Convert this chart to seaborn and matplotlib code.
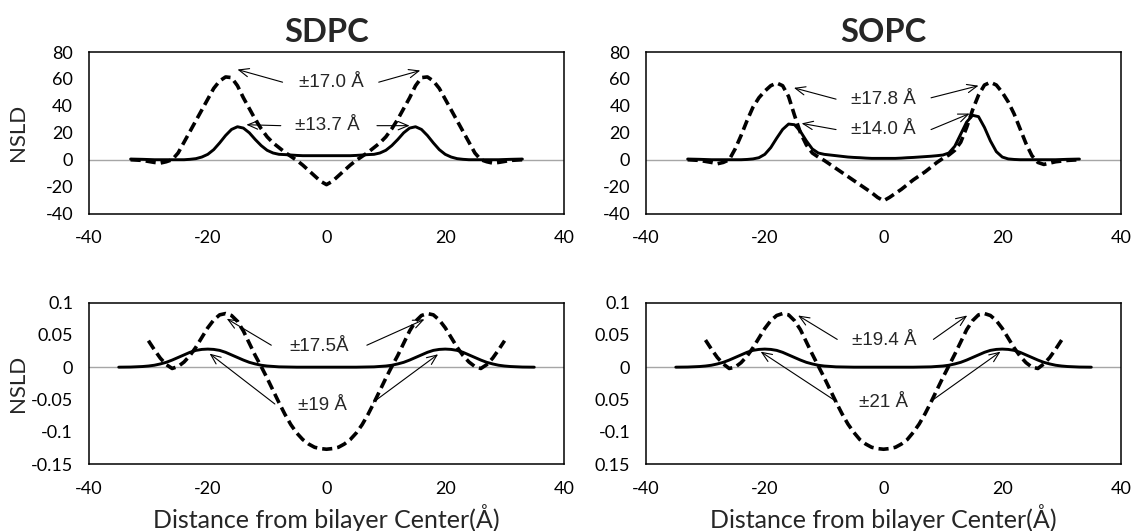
# nsld_profiles.py

import matplotlib.pyplot as plt
import seaborn as sns

# ---------------- data ----------------
# distance grid for the top (raw NSLD) panels
top_x = [-33, -31, -29, -28, -27, -26, -25, -24, -23, -22, -21, -20, -19, -18, -17,
         -16, -15, -14, -13, -12, -11, -10, -9, -8, -7, -6, -5, -4, -3, -2, -1, 0,
         1, 2, 3, 4, 5, 6, 7, 8, 9, 10, 11, 12, 13, 14, 15, 16, 17, 18, 19, 20,
         21, 22, 23, 24, 25, 26, 27, 28, 29, 31, 33]

sdpc_top_dashed = [0, -0.5, -2, -2.5, -1.5, 0, 5, 13, 21, 29, 37, 45, 53, 58.5, 61.5,
                   61, 55, 46, 38, 30, 23, 17, 12.5, 9, 5.5, 2.5, -0.5, -4, -8, -12, -16, -18.5,
                   -16, -12, -8, -4, -0.5, 2.5, 5.5, 9, 12.5, 17, 23, 30, 38, 46, 55, 61, 61.5, 58.5, 53, 45,
                   37, 29, 21, 13, 5, 0, -1.5, -2.5, -2, -0.5, 0]
sdpc_top_solid = [0.5, 0.3, 0, 0, 0, 0, 0, 0, 0.3, 0.8, 2, 4, 7.5, 12.5, 18,
                  22.5, 24.5, 23.5, 20, 15, 10.5, 7, 5, 4, 3.8, 3.5, 3.2, 3, 3, 3, 3, 3,
                  3, 3, 3, 3, 3.2, 3.5, 3.8, 4, 5, 7, 10.5, 15, 20, 23.5, 24.5, 22.5, 18, 12.5, 7.5, 4,
                  2, 0.8, 0.3, 0, 0, 0, 0, 0, 0, 0.3, 0.5]

sopc_top_dashed = [0, -0.5, -2, -3, -2, 0, 8, 18, 29, 39, 46, 51, 55, 57, 55,
                   47, 33, 20, 11, 5, 2, -0.5, -3.5, -6.5, -9.5, -12.5, -15.5, -18.5, -21.5, -24.5, -28, -30.5,
                   -28, -25, -22, -18.5, -15, -12, -9, -5.5, -2, 1, 3.5, 7, 13, 24, 37, 48, 55.5, 57.5, 55.5, 50,
                   43, 34, 23, 12, 3, -2, -3.5, -2.5, -1.5, -0.5, 0]
sopc_top_solid = [0.5, 0.3, 0, 0, 0, 0, 0, 0, 0.2, 0.6, 1.5, 4, 9, 16, 22.5,
                  26.5, 26, 21, 14, 8, 5, 4, 3.5, 3, 2.5, 2, 1.7, 1.5, 1.2, 1, 1, 1,
                  1, 1, 1.2, 1.5, 1.7, 2, 2.3, 2.6, 3, 3.5, 5, 10, 19, 28, 33, 32, 24, 14, 6, 2,
                  0.6, 0.2, 0, 0, 0, 0, 0, 0, 0, 0.3, 0.5]

# distance grids for the bottom (model) panels
bot_dashed_x = [-30, -29, -28, -27, -26, -25, -24, -23, -22, -21, -20, -19, -18, -17, -16,
                -15, -14, -13, -12, -11, -10, -9, -8, -7, -6, -5, -4, -3, -2, -1, 0,
                1, 2, 3, 4, 5, 6, 7, 8, 9, 10, 11, 12, 13, 14, 15,
                16, 17, 18, 19, 20, 21, 22, 23, 24, 25, 26, 27, 28, 29, 30]
bot_solid_x = [-35, -33, -31, -30, -29, -28, -27, -26, -25, -24, -23, -22, -21, -20, -19,
               -18, -17, -16, -15, -14, -13, -12, -11, -10, -8, -5, 0, 5, 8,
               10, 11, 12, 13, 14, 15, 16, 17, 18, 19, 20, 21, 22, 23, 24, 25,
               26, 27, 28, 29, 30, 31, 33, 35]

sdpc_bot_dashed = [0.041, 0.027, 0.014, 0.004, -0.002, 0.001, 0.008, 0.018, 0.031, 0.046, 0.061, 0.073, 0.081, 0.083, 0.080,
                   0.071, 0.056, 0.037, 0.018, 0.001, -0.017, -0.036, -0.055, -0.073, -0.089, -0.102, -0.112, -0.119, -0.124, -0.126, -0.127,
                   -0.126, -0.124, -0.119, -0.112, -0.102, -0.089, -0.073, -0.055, -0.036, -0.017, 0.001, 0.018, 0.037, 0.056, 0.071,
                   0.080, 0.083, 0.081, 0.073, 0.061, 0.046, 0.031, 0.018, 0.008, 0.001, -0.002, 0.004, 0.014, 0.027, 0.041]
sdpc_bot_solid = [0, 0.0002, 0.001, 0.0018, 0.003, 0.005, 0.0075, 0.011, 0.015, 0.019, 0.023, 0.026, 0.0275, 0.028, 0.0275,
                  0.026, 0.023, 0.019, 0.015, 0.011, 0.0075, 0.005, 0.003, 0.0018, 0.0005, 0, 0, 0, 0.0005,
                  0.0018, 0.003, 0.005, 0.0075, 0.011, 0.015, 0.019, 0.023, 0.026, 0.0275, 0.028, 0.0275, 0.026, 0.023, 0.019, 0.015,
                  0.011, 0.0075, 0.005, 0.003, 0.0018, 0.001, 0.0002, 0]

sopc_bot_dashed = [0.042, 0.028, 0.015, 0.005, -0.002, 0.000, 0.007, 0.017, 0.030, 0.045, 0.060, 0.072, 0.080, 0.083, 0.081,
                   0.072, 0.058, 0.039, 0.020, 0.002, -0.016, -0.035, -0.054, -0.072, -0.088, -0.101, -0.112, -0.119, -0.124, -0.126, -0.127,
                   -0.126, -0.124, -0.119, -0.112, -0.101, -0.088, -0.072, -0.054, -0.035, -0.016, 0.002, 0.020, 0.039, 0.058, 0.072,
                   0.081, 0.083, 0.080, 0.072, 0.060, 0.045, 0.030, 0.017, 0.007, 0.000, -0.002, 0.005, 0.015, 0.028, 0.042]
sopc_bot_solid = [0, 0.0002, 0.001, 0.0018, 0.003, 0.005, 0.0075, 0.011, 0.015, 0.019, 0.023, 0.026, 0.0275, 0.028, 0.0275,
                  0.026, 0.023, 0.019, 0.015, 0.011, 0.0075, 0.005, 0.003, 0.0018, 0.0005, 0, 0, 0, 0.0005,
                  0.0018, 0.003, 0.005, 0.0075, 0.011, 0.015, 0.019, 0.023, 0.026, 0.0275, 0.028, 0.0275, 0.026, 0.023, 0.019, 0.015,
                  0.011, 0.0075, 0.005, 0.003, 0.0018, 0.001, 0.0002, 0]

panel_titles = ['SDPC', 'SOPC']
x_ticks = [-40, -20, 0, 20, 40]
top_y_ticks = [-40, -20, 0, 20, 40, 60, 80]
bot_y_ticks = [-0.15, -0.1, -0.05, 0, 0.05, 0.1]
bot_left_labels = ['-0.15', '-0.1', '-0.05', '0', '0.05', '0.1']
bot_right_labels = ['0.15', '-0.1', '0.05', '0', '0.05', '0.1']   # as printed in the source
x_label = 'Distance from bilayer Center(Å)'

# annotation text: (label, text xy, [(arrow start), (arrow tip)], ...)
annotations = [
    [('±17.0 Å', (0.8, 57), [((-7.4, 57.6), (-15, 67)), ((8.8, 57.6), (15.8, 66.3))]),
     ('±13.7 Å', (0.2, 25.3), [((-7.7, 25.3), (-13.5, 26)), ((8.5, 25.3), (14, 25.3))])],
    [('±17.8 Å', (-0.1, 45), [((-8, 45), (-15.1, 53.4)), ((8, 46), (16, 55))]),
     ('±14.0 Å', (-0.1, 22.4), [((-8, 22.4), (-13.8, 27)), ((8, 22.4), (14.5, 34.3))])],
    [('±17.5Å', (-1.3, 0.0325), [((-9.3, 0.034), (-16.8, 0.075)), ((6.8, 0.034), (16.5, 0.074))]),
     ('±19 Å', (-0.7, -0.059), [((-8.7, -0.057), (-19.7, 0.021)), ((7.9, -0.054), (18.8, 0.020))])],
    [('±19.4 Å', (0.2, 0.042), [((-7.8, 0.043), (-14.4, 0.080)), ((8.4, 0.043), (14.1, 0.080))]),
     ('±21 Å', (0.0, -0.055), [((-7.8, -0.054), (-20.7, 0.024)), ((8.1, -0.052), (19.7, 0.024))])],
]

# ---------------- plotting ----------------
sns.set_theme(style="white")
plt.rcParams['font.family'] = ['Lato', 'DejaVu Sans']

fig, axes = plt.subplots(2, 2, figsize=(11.33, 5.31), dpi=100)
fig.subplots_adjust(left=0.0786, right=0.9894, top=0.902, bottom=0.126,
                    wspace=0.173, hspace=0.551)

curves = [
    (top_x, sdpc_top_dashed, top_x, sdpc_top_solid),
    (top_x, sopc_top_dashed, top_x, sopc_top_solid),
    (bot_dashed_x, sdpc_bot_dashed, bot_solid_x, sdpc_bot_solid),
    (bot_dashed_x, sopc_bot_dashed, bot_solid_x, sopc_bot_solid),
]

for i, ax in enumerate(axes.flat):
    xd, yd, xs, ys = curves[i]

    # zero line
    ax.axhline(0, color='#a6a6a6', lw=1.0, zorder=1)

    sns.lineplot(x=xd, y=yd, ax=ax, color='black', lw=2.6,
                 linestyle=(0, (2.8, 1.4)), estimator=None, sort=False, zorder=3)
    sns.lineplot(x=xs, y=ys, ax=ax, color='black', lw=2.1,
                 estimator=None, sort=False, zorder=3)

    ax.set_xlim(-40, 40)
    ax.set_xticks(x_ticks)
    ax.set_xticklabels([str(t) for t in x_ticks])

    if i < 2:
        ax.set_ylim(-40, 80)
        ax.set_yticks(top_y_ticks)
        ax.set_yticklabels([str(t) for t in top_y_ticks])
        ax.set_title(panel_titles[i], fontsize=23.5, fontweight='bold', pad=7)
    else:
        ax.set_ylim(-0.15, 0.1)
        ax.set_yticks(bot_y_ticks)
        ax.set_yticklabels(bot_left_labels if i == 2 else bot_right_labels)
        ax.set_xlabel(x_label, fontsize=18)
        ax.xaxis.set_label_coords(0.5, -0.25)

    if i % 2 == 0:
        ax.set_ylabel('NSLD', fontsize=16)
        ax.yaxis.set_label_coords(-0.128, 0.5)
    else:
        ax.set_ylabel('')

    ax.tick_params(axis='both', length=0, labelsize=13, colors='black')
    ax.tick_params(axis='y', pad=11.5)
    ax.tick_params(axis='x', pad=12)

    for spine in ax.spines.values():
        spine.set_color('black')
        spine.set_linewidth(1.1)
        spine.set_visible(True)

    # peak-distance annotations
    for label, txy, arrows in annotations[i]:
        ax.text(txy[0], txy[1], label, ha='center', va='center', fontsize=13.5,
                family=['Liberation Sans', 'DejaVu Sans'], zorder=5)
        for start, tip in arrows:
            ax.annotate('', xy=tip, xytext=start,
                        arrowprops=dict(arrowstyle='->,head_length=0.6,head_width=0.25',
                                        lw=0.8, color='black', shrinkA=0, shrinkB=0),
                        zorder=5)

plt.savefig('out.png', dpi=100)
